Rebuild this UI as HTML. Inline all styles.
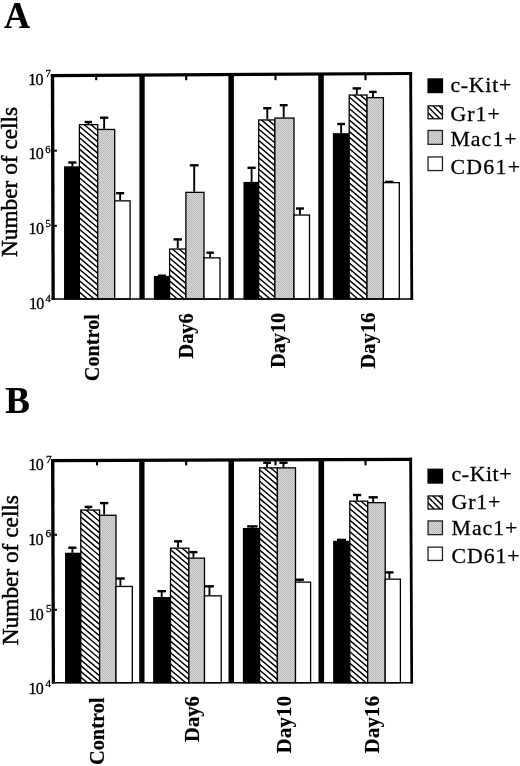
<!DOCTYPE html>
<html><head><meta charset="utf-8"><title>Figure</title>
<style>
html,body{margin:0;padding:0;background:#fff;}
body{width:520px;height:766px;overflow:hidden;font-family:"Liberation Serif",serif;}
svg{display:block;will-change:transform;}
text{font-family:"Liberation Serif",serif;fill:#000;}
.b{font-weight:bold;}
.s{font-weight:normal;stroke:#000;stroke-width:0.3px;}
.s2{font-weight:normal;stroke:#000;stroke-width:0.5px;}
.b{stroke:#000;stroke-width:0.2px;}
</style></head><body>
<svg width="520" height="766" viewBox="0 0 520 766">
<defs>
<pattern id="hatch" width="3.9" height="3.9" patternUnits="userSpaceOnUse" patternTransform="rotate(45)">
<rect width="3.9" height="3.9" fill="#fff"/><rect x="0" y="0" width="3.9" height="1.35" fill="#000"/></pattern>
<pattern id="hatchL" width="3.9" height="3.9" patternUnits="userSpaceOnUse" patternTransform="rotate(45)">
<rect width="3.9" height="3.9" fill="#fff"/><rect x="0" y="0" width="3.9" height="1.5" fill="#000"/></pattern>
<pattern id="dots" width="2" height="2" patternUnits="userSpaceOnUse">
<rect width="2" height="2" fill="#d4d4d4"/><rect width="1" height="1" fill="#bdbdbd"/><rect x="1" y="1" width="1" height="1" fill="#bdbdbd"/></pattern>
</defs>
<rect width="520" height="766" fill="#fff"/>

<g id="A">
<line x1="68.30" y1="162.50" x2="76.50" y2="162.50" stroke="#000" stroke-width="2.4"/><line x1="72.40" y1="162.50" x2="72.40" y2="166.30" stroke="#000" stroke-width="1.9"/>
<line x1="84.60" y1="122.00" x2="92.00" y2="122.00" stroke="#000" stroke-width="2.4"/><line x1="88.30" y1="122.00" x2="88.30" y2="124.00" stroke="#000" stroke-width="1.9"/>
<line x1="100.00" y1="117.70" x2="108.30" y2="117.70" stroke="#000" stroke-width="2.4"/><line x1="104.15" y1="117.70" x2="104.15" y2="128.80" stroke="#000" stroke-width="1.9"/>
<line x1="116.10" y1="193.20" x2="124.20" y2="193.20" stroke="#000" stroke-width="2.4"/><line x1="120.15" y1="193.20" x2="120.15" y2="200.20" stroke="#000" stroke-width="1.9"/>
<line x1="158.00" y1="275.70" x2="166.00" y2="275.70" stroke="#000" stroke-width="2.4"/>
<line x1="173.50" y1="239.40" x2="182.00" y2="239.40" stroke="#000" stroke-width="2.4"/><line x1="177.75" y1="239.40" x2="177.75" y2="248.40" stroke="#000" stroke-width="1.9"/>
<line x1="189.80" y1="165.30" x2="198.60" y2="165.30" stroke="#000" stroke-width="2.4"/><line x1="194.20" y1="165.30" x2="194.20" y2="191.70" stroke="#000" stroke-width="1.9"/>
<line x1="206.40" y1="252.70" x2="213.90" y2="252.70" stroke="#000" stroke-width="2.4"/><line x1="210.15" y1="252.70" x2="210.15" y2="257.20" stroke="#000" stroke-width="1.9"/>
<line x1="247.50" y1="167.80" x2="255.70" y2="167.80" stroke="#000" stroke-width="2.4"/><line x1="251.60" y1="167.80" x2="251.60" y2="181.90" stroke="#000" stroke-width="1.9"/>
<line x1="263.20" y1="108.20" x2="271.40" y2="108.20" stroke="#000" stroke-width="2.4"/><line x1="267.30" y1="108.20" x2="267.30" y2="119.30" stroke="#000" stroke-width="1.9"/>
<line x1="279.80" y1="105.20" x2="287.60" y2="105.20" stroke="#000" stroke-width="2.4"/><line x1="283.70" y1="105.20" x2="283.70" y2="117.40" stroke="#000" stroke-width="1.9"/>
<line x1="296.00" y1="208.50" x2="303.90" y2="208.50" stroke="#000" stroke-width="2.4"/><line x1="299.95" y1="208.50" x2="299.95" y2="214.40" stroke="#000" stroke-width="1.9"/>
<line x1="337.30" y1="124.00" x2="345.00" y2="124.00" stroke="#000" stroke-width="2.4"/><line x1="341.15" y1="124.00" x2="341.15" y2="133.20" stroke="#000" stroke-width="1.9"/>
<line x1="352.60" y1="88.40" x2="361.00" y2="88.40" stroke="#000" stroke-width="2.4"/><line x1="356.80" y1="88.40" x2="356.80" y2="94.40" stroke="#000" stroke-width="1.9"/>
<line x1="369.20" y1="91.90" x2="376.70" y2="91.90" stroke="#000" stroke-width="2.4"/><line x1="372.95" y1="91.90" x2="372.95" y2="97.00" stroke="#000" stroke-width="1.9"/>
<line x1="385.00" y1="181.90" x2="393.50" y2="181.90" stroke="#000" stroke-width="2.4"/>
<rect x="64.70" y="166.95" width="14.70" height="132.05" fill="#000" stroke="#000" stroke-width="1.3"/>
<clipPath id="c1"><rect x="79.40" y="124.65" width="18.30" height="174.35"/></clipPath><rect x="79.40" y="124.65" width="18.30" height="174.35" fill="#fff"/><g clip-path="url(#c1)" stroke="#000" stroke-width="1.45"><path d="M78.40 102.53L98.70 119.78M78.40 108.25L98.70 125.50M78.40 113.97L98.70 131.22M78.40 119.69L98.70 136.94M78.40 125.41L98.70 142.66M78.40 131.13L98.70 148.38M78.40 136.85L98.70 154.10M78.40 142.57L98.70 159.82M78.40 148.29L98.70 165.54M78.40 154.01L98.70 171.26M78.40 159.73L98.70 176.98M78.40 165.45L98.70 182.70M78.40 171.17L98.70 188.42M78.40 176.89L98.70 194.14M78.40 182.61L98.70 199.86M78.40 188.33L98.70 205.58M78.40 194.05L98.70 211.30M78.40 199.77L98.70 217.02M78.40 205.49L98.70 222.74M78.40 211.21L98.70 228.46M78.40 216.93L98.70 234.18M78.40 222.65L98.70 239.90M78.40 228.37L98.70 245.62M78.40 234.09L98.70 251.34M78.40 239.81L98.70 257.06M78.40 245.53L98.70 262.78M78.40 251.25L98.70 268.50M78.40 256.96L98.70 274.22M78.40 262.69L98.70 279.94M78.40 268.41L98.70 285.66M78.40 274.13L98.70 291.38M78.40 279.85L98.70 297.10M78.40 285.57L98.70 302.82M78.40 291.29L98.70 308.54M78.40 297.01L98.70 314.26M78.40 302.73L98.70 319.98" fill="none"/></g><rect x="79.40" y="124.65" width="18.30" height="174.35" fill="none" stroke="#000" stroke-width="1.3"/>
<rect x="97.70" y="129.45" width="17.00" height="169.55" fill="url(#dots)" stroke="#000" stroke-width="1.3"/>
<rect x="114.70" y="200.85" width="15.40" height="98.15" fill="#fff" stroke="#000" stroke-width="1.3"/>
<rect x="154.50" y="276.55" width="15.10" height="22.45" fill="#000" stroke="#000" stroke-width="1.3"/>
<clipPath id="c2"><rect x="169.60" y="249.05" width="16.30" height="49.95"/></clipPath><rect x="169.60" y="249.05" width="16.30" height="49.95" fill="#fff"/><g clip-path="url(#c2)" stroke="#000" stroke-width="1.45"><path d="M168.60 228.62L186.90 244.18M168.60 234.34L186.90 249.90M168.60 240.06L186.90 255.62M168.60 245.78L186.90 261.34M168.60 251.50L186.90 267.06M168.60 257.22L186.90 272.78M168.60 262.94L186.90 278.50M168.60 268.67L186.90 284.22M168.60 274.39L186.90 289.94M168.60 280.11L186.90 295.66M168.60 285.83L186.90 301.38M168.60 291.55L186.90 307.10M168.60 297.27L186.90 312.82M168.60 302.99L186.90 318.54" fill="none"/></g><rect x="169.60" y="249.05" width="16.30" height="49.95" fill="none" stroke="#000" stroke-width="1.3"/>
<rect x="185.90" y="192.35" width="18.10" height="106.65" fill="url(#dots)" stroke="#000" stroke-width="1.3"/>
<rect x="204.00" y="257.85" width="16.00" height="41.15" fill="#fff" stroke="#000" stroke-width="1.3"/>
<rect x="244.10" y="182.55" width="14.60" height="116.45" fill="#000" stroke="#000" stroke-width="1.3"/>
<clipPath id="c3"><rect x="258.70" y="119.95" width="16.20" height="179.05"/></clipPath><rect x="258.70" y="119.95" width="16.20" height="179.05" fill="#fff"/><g clip-path="url(#c3)" stroke="#000" stroke-width="1.45"><path d="M257.70 99.61L275.90 115.08M257.70 105.33L275.90 120.80M257.70 111.05L275.90 126.52M257.70 116.77L275.90 132.24M257.70 122.49L275.90 137.96M257.70 128.21L275.90 143.68M257.70 133.93L275.90 149.40M257.70 139.65L275.90 155.12M257.70 145.37L275.90 160.84M257.70 151.09L275.90 166.56M257.70 156.81L275.90 172.28M257.70 162.53L275.90 178.00M257.70 168.25L275.90 183.72M257.70 173.97L275.90 189.44M257.70 179.69L275.90 195.16M257.70 185.41L275.90 200.88M257.70 191.13L275.90 206.60M257.70 196.85L275.90 212.32M257.70 202.57L275.90 218.04M257.70 208.29L275.90 223.76M257.70 214.01L275.90 229.48M257.70 219.73L275.90 235.20M257.70 225.45L275.90 240.92M257.70 231.17L275.90 246.64M257.70 236.89L275.90 252.36M257.70 242.61L275.90 258.08M257.70 248.33L275.90 263.80M257.70 254.05L275.90 269.52M257.70 259.77L275.90 275.24M257.70 265.49L275.90 280.96M257.70 271.21L275.90 286.68M257.70 276.93L275.90 292.40M257.70 282.65L275.90 298.12M257.70 288.37L275.90 303.84M257.70 294.09L275.90 309.56M257.70 299.81L275.90 315.28" fill="none"/></g><rect x="258.70" y="119.95" width="16.20" height="179.05" fill="none" stroke="#000" stroke-width="1.3"/>
<rect x="274.90" y="118.05" width="19.10" height="180.95" fill="url(#dots)" stroke="#000" stroke-width="1.3"/>
<rect x="294.00" y="215.05" width="15.50" height="83.95" fill="#fff" stroke="#000" stroke-width="1.3"/>
<rect x="333.50" y="133.85" width="15.70" height="165.15" fill="#000" stroke="#000" stroke-width="1.3"/>
<clipPath id="c4"><rect x="349.20" y="95.05" width="17.80" height="203.95"/></clipPath><rect x="349.20" y="95.05" width="17.80" height="203.95" fill="#fff"/><g clip-path="url(#c4)" stroke="#000" stroke-width="1.45"><path d="M348.20 73.35L368.00 90.18M348.20 79.07L368.00 95.90M348.20 84.79L368.00 101.62M348.20 90.51L368.00 107.34M348.20 96.23L368.00 113.06M348.20 101.95L368.00 118.78M348.20 107.67L368.00 124.50M348.20 113.39L368.00 130.22M348.20 119.11L368.00 135.94M348.20 124.83L368.00 141.66M348.20 130.55L368.00 147.38M348.20 136.27L368.00 153.10M348.20 141.99L368.00 158.82M348.20 147.71L368.00 164.54M348.20 153.43L368.00 170.26M348.20 159.15L368.00 175.98M348.20 164.87L368.00 181.70M348.20 170.59L368.00 187.42M348.20 176.31L368.00 193.14M348.20 182.03L368.00 198.86M348.20 187.75L368.00 204.58M348.20 193.47L368.00 210.30M348.20 199.19L368.00 216.02M348.20 204.91L368.00 221.74M348.20 210.63L368.00 227.46M348.20 216.35L368.00 233.18M348.20 222.07L368.00 238.90M348.20 227.79L368.00 244.62M348.20 233.51L368.00 250.34M348.20 239.23L368.00 256.06M348.20 244.95L368.00 261.78M348.20 250.67L368.00 267.50M348.20 256.39L368.00 273.22M348.20 262.11L368.00 278.94M348.20 267.83L368.00 284.66M348.20 273.55L368.00 290.38M348.20 279.27L368.00 296.10M348.20 284.99L368.00 301.82M348.20 290.71L368.00 307.54M348.20 296.43L368.00 313.26M348.20 302.15L368.00 318.98" fill="none"/></g><rect x="349.20" y="95.05" width="17.80" height="203.95" fill="none" stroke="#000" stroke-width="1.3"/>
<rect x="367.00" y="97.65" width="16.40" height="201.35" fill="url(#dots)" stroke="#000" stroke-width="1.3"/>
<rect x="383.40" y="182.65" width="15.90" height="116.35" fill="#fff" stroke="#000" stroke-width="1.3"/>
<rect x="139.40" y="75.17" width="5.30" height="223.83" fill="#000"/><rect x="228.40" y="74.62" width="5.50" height="224.38" fill="#000"/><rect x="318.30" y="74.07" width="5.50" height="224.93" fill="#000"/>
<polygon points="50.80,74.10 412.10,71.90 412.10,75.00 50.80,77.30" fill="#000"/><polygon points="50.80,74.10 54.20,74.10 54.80,299.80 51.50,299.80" fill="#000"/><polygon points="409.20,71.90 412.10,71.90 413.20,299.80 410.40,299.80" fill="#000"/><line x1="51.50" y1="299.00" x2="413.20" y2="299.00" stroke="#000" stroke-width="1.6"/>
<line x1="54.2" y1="150.70" x2="56.9" y2="150.70" stroke="#000" stroke-width="2"/><line x1="54.2" y1="225.80" x2="56.9" y2="225.80" stroke="#000" stroke-width="2"/>
<line x1="96.20" y1="74.00" x2="96.20" y2="80.20" stroke="#000" stroke-width="2.1"/><line x1="186.20" y1="74.00" x2="186.20" y2="80.20" stroke="#000" stroke-width="2.1"/><line x1="275.50" y1="74.00" x2="275.50" y2="80.20" stroke="#000" stroke-width="2.1"/><line x1="365.50" y1="74.00" x2="365.50" y2="80.20" stroke="#000" stroke-width="2.1"/>
<text x="28.3" y="84.85" font-size="16" letter-spacing="-0.7" class="s">10</text><text x="45.4" y="77.10" font-size="10.6" class="s">7</text><text x="28.5" y="158.90" font-size="16" letter-spacing="-0.7" class="s">10</text><text x="45.2" y="152.80" font-size="10.6" class="s">6</text><text x="28.6" y="233.90" font-size="16" letter-spacing="-0.7" class="s">10</text><text x="45.4" y="226.80" font-size="10.6" class="s">5</text><text x="28.9" y="309.10" font-size="16" letter-spacing="-0.7" class="s">10</text><text x="45.4" y="301.60" font-size="10.6" class="s">4</text>
<text transform="translate(17.10,257.00) rotate(-90)" font-size="23.3" text-anchor="start" letter-spacing="0" class="s2">Number of cells</text>
<text transform="translate(98.90,314.00) rotate(-90)" font-size="20.3" text-anchor="end" letter-spacing="0" class="b">Control</text>
<text transform="translate(192.50,313.40) rotate(-90)" font-size="20.3" text-anchor="end" letter-spacing="0" class="b">Day6</text>
<text transform="translate(284.80,312.80) rotate(-90)" font-size="20.3" text-anchor="end" letter-spacing="0" class="b">Day10</text>
<text transform="translate(374.80,312.30) rotate(-90)" font-size="20.3" text-anchor="end" letter-spacing="0.2" class="b">Day16</text>
<rect x="427.4" y="78.30" width="15.70" height="14.90" fill="#000"/><text x="450.4" y="92.20" font-size="21.8" letter-spacing="0.77" class="s">c-Kit+</text><clipPath id="c5"><rect x="428.04999999999995" y="105.85" width="14.40" height="12.90"/></clipPath><path clip-path="url(#c5)" d="M426.40 81.20L444.10 98.90M426.40 87.20L444.10 104.90M426.40 93.20L444.10 110.90M426.40 99.20L444.10 116.90M426.40 105.20L444.10 122.90M426.40 111.20L444.10 128.90M426.40 117.20L444.10 134.90M426.40 123.20L444.10 140.90M426.40 129.20L444.10 146.90" stroke="#000" stroke-width="1.5" fill="none"/><rect x="428.04999999999995" y="105.85" width="14.40" height="12.90" fill="none" stroke="#111" stroke-width="1.3"/><text x="450.4" y="120.60" font-size="21.8" letter-spacing="1.03" class="s">Gr1+</text><rect x="428.04999999999995" y="130.45" width="14.40" height="13.90" fill="url(#dots)" stroke="#222" stroke-width="1.3"/><text x="450.4" y="146.30" font-size="21.8" letter-spacing="1.05" class="s">Mac1+</text><rect x="428.04999999999995" y="156.95" width="14.40" height="13.60" fill="#fff" stroke="#222" stroke-width="1.3"/><text x="450.4" y="173.50" font-size="21.8" letter-spacing="1.35" class="s">CD61+</text>
<text transform="translate(17.0,27.7) scale(0.94,1)" text-anchor="middle" font-size="38.5" class="b">A</text>
</g>
<g id="B">
<line x1="68.30" y1="547.70" x2="76.50" y2="547.70" stroke="#000" stroke-width="2.4"/><line x1="72.40" y1="547.70" x2="72.40" y2="552.70" stroke="#000" stroke-width="1.9"/>
<line x1="84.60" y1="506.90" x2="92.30" y2="506.90" stroke="#000" stroke-width="2.4"/><line x1="88.45" y1="506.90" x2="88.45" y2="509.40" stroke="#000" stroke-width="1.9"/>
<line x1="100.00" y1="503.10" x2="108.30" y2="503.10" stroke="#000" stroke-width="2.4"/><line x1="104.15" y1="503.10" x2="104.15" y2="514.60" stroke="#000" stroke-width="1.9"/>
<line x1="116.00" y1="578.50" x2="124.80" y2="578.50" stroke="#000" stroke-width="2.4"/><line x1="120.40" y1="578.50" x2="120.40" y2="585.80" stroke="#000" stroke-width="1.9"/>
<line x1="157.40" y1="591.20" x2="166.00" y2="591.20" stroke="#000" stroke-width="2.4"/><line x1="161.70" y1="591.20" x2="161.70" y2="597.00" stroke="#000" stroke-width="1.9"/>
<line x1="174.00" y1="541.30" x2="182.10" y2="541.30" stroke="#000" stroke-width="2.4"/><line x1="178.05" y1="541.30" x2="178.05" y2="547.50" stroke="#000" stroke-width="1.9"/>
<line x1="189.40" y1="552.10" x2="197.50" y2="552.10" stroke="#000" stroke-width="2.4"/><line x1="193.45" y1="552.10" x2="193.45" y2="557.50" stroke="#000" stroke-width="1.9"/>
<line x1="205.00" y1="586.30" x2="213.90" y2="586.30" stroke="#000" stroke-width="2.4"/><line x1="209.45" y1="586.30" x2="209.45" y2="595.20" stroke="#000" stroke-width="1.9"/>
<line x1="247.20" y1="526.40" x2="257.60" y2="526.40" stroke="#000" stroke-width="2.4"/><line x1="252.40" y1="526.40" x2="252.40" y2="528.00" stroke="#000" stroke-width="1.9"/>
<line x1="263.20" y1="462.70" x2="271.00" y2="462.70" stroke="#000" stroke-width="2.4"/><line x1="267.10" y1="462.70" x2="267.10" y2="467.20" stroke="#000" stroke-width="1.9"/>
<line x1="279.40" y1="462.70" x2="287.60" y2="462.70" stroke="#000" stroke-width="2.4"/><line x1="283.50" y1="462.70" x2="283.50" y2="467.20" stroke="#000" stroke-width="1.9"/>
<line x1="295.50" y1="579.70" x2="303.90" y2="579.70" stroke="#000" stroke-width="2.4"/><line x1="299.70" y1="579.70" x2="299.70" y2="581.50" stroke="#000" stroke-width="1.9"/>
<line x1="337.00" y1="539.90" x2="346.00" y2="539.90" stroke="#000" stroke-width="2.4"/>
<line x1="353.00" y1="495.00" x2="361.20" y2="495.00" stroke="#000" stroke-width="2.4"/><line x1="357.10" y1="495.00" x2="357.10" y2="500.50" stroke="#000" stroke-width="1.9"/>
<line x1="368.60" y1="497.30" x2="377.80" y2="497.30" stroke="#000" stroke-width="2.4"/><line x1="373.20" y1="497.30" x2="373.20" y2="502.00" stroke="#000" stroke-width="1.9"/>
<line x1="385.30" y1="572.40" x2="393.50" y2="572.40" stroke="#000" stroke-width="2.4"/><line x1="389.40" y1="572.40" x2="389.40" y2="578.50" stroke="#000" stroke-width="1.9"/>
<rect x="65.70" y="553.35" width="15.10" height="129.35" fill="#000" stroke="#000" stroke-width="1.3"/>
<clipPath id="c6"><rect x="80.80" y="510.05" width="18.80" height="172.65"/></clipPath><rect x="80.80" y="510.05" width="18.80" height="172.65" fill="#fff"/><g clip-path="url(#c6)" stroke="#000" stroke-width="1.45"><path d="M79.80 487.50L100.60 505.18M79.80 493.22L100.60 510.90M79.80 498.94L100.60 516.62M79.80 504.66L100.60 522.34M79.80 510.38L100.60 528.06M79.80 516.10L100.60 533.78M79.80 521.82L100.60 539.50M79.80 527.54L100.60 545.22M79.80 533.26L100.60 550.94M79.80 538.98L100.60 556.66M79.80 544.70L100.60 562.38M79.80 550.42L100.60 568.10M79.80 556.14L100.60 573.82M79.80 561.86L100.60 579.54M79.80 567.58L100.60 585.26M79.80 573.30L100.60 590.98M79.80 579.02L100.60 596.70M79.80 584.74L100.60 602.42M79.80 590.46L100.60 608.14M79.80 596.18L100.60 613.86M79.80 601.90L100.60 619.58M79.80 607.62L100.60 625.30M79.80 613.34L100.60 631.02M79.80 619.06L100.60 636.74M79.80 624.78L100.60 642.46M79.80 630.50L100.60 648.18M79.80 636.22L100.60 653.90M79.80 641.94L100.60 659.62M79.80 647.66L100.60 665.34M79.80 653.38L100.60 671.06M79.80 659.10L100.60 676.78M79.80 664.82L100.60 682.50M79.80 670.54L100.60 688.22M79.80 676.26L100.60 693.94M79.80 681.98L100.60 699.66" fill="none"/></g><rect x="80.80" y="510.05" width="18.80" height="172.65" fill="none" stroke="#000" stroke-width="1.3"/>
<rect x="99.60" y="515.25" width="16.40" height="167.45" fill="url(#dots)" stroke="#000" stroke-width="1.3"/>
<rect x="116.00" y="586.45" width="16.30" height="96.25" fill="#fff" stroke="#000" stroke-width="1.3"/>
<rect x="153.80" y="597.65" width="16.70" height="85.05" fill="#000" stroke="#000" stroke-width="1.3"/>
<clipPath id="c7"><rect x="170.50" y="548.15" width="18.40" height="134.55"/></clipPath><rect x="170.50" y="548.15" width="18.40" height="134.55" fill="#fff"/><g clip-path="url(#c7)" stroke="#000" stroke-width="1.45"><path d="M169.50 525.94L189.90 543.28M169.50 531.66L189.90 549.00M169.50 537.38L189.90 554.72M169.50 543.10L189.90 560.44M169.50 548.82L189.90 566.16M169.50 554.54L189.90 571.88M169.50 560.26L189.90 577.60M169.50 565.98L189.90 583.32M169.50 571.70L189.90 589.04M169.50 577.42L189.90 594.76M169.50 583.14L189.90 600.48M169.50 588.86L189.90 606.20M169.50 594.58L189.90 611.92M169.50 600.30L189.90 617.64M169.50 606.02L189.90 623.36M169.50 611.74L189.90 629.08M169.50 617.46L189.90 634.80M169.50 623.18L189.90 640.52M169.50 628.90L189.90 646.24M169.50 634.62L189.90 651.96M169.50 640.34L189.90 657.68M169.50 646.06L189.90 663.40M169.50 651.78L189.90 669.12M169.50 657.50L189.90 674.84M169.50 663.22L189.90 680.56M169.50 668.94L189.90 686.28M169.50 674.66L189.90 692.00M169.50 680.38L189.90 697.72M169.50 686.10L189.90 703.44" fill="none"/></g><rect x="170.50" y="548.15" width="18.40" height="134.55" fill="none" stroke="#000" stroke-width="1.3"/>
<rect x="188.90" y="558.15" width="15.60" height="124.55" fill="url(#dots)" stroke="#000" stroke-width="1.3"/>
<rect x="204.50" y="595.85" width="16.70" height="86.85" fill="#fff" stroke="#000" stroke-width="1.3"/>
<rect x="243.50" y="528.65" width="16.10" height="154.05" fill="#000" stroke="#000" stroke-width="1.3"/>
<clipPath id="c8"><rect x="259.60" y="467.85" width="17.80" height="214.85"/></clipPath><rect x="259.60" y="467.85" width="17.80" height="214.85" fill="#fff"/><g clip-path="url(#c8)" stroke="#000" stroke-width="1.45"><path d="M258.60 446.15L278.40 462.98M258.60 451.87L278.40 468.70M258.60 457.59L278.40 474.42M258.60 463.31L278.40 480.14M258.60 469.03L278.40 485.86M258.60 474.75L278.40 491.58M258.60 480.47L278.40 497.30M258.60 486.19L278.40 503.02M258.60 491.91L278.40 508.74M258.60 497.63L278.40 514.46M258.60 503.35L278.40 520.18M258.60 509.07L278.40 525.90M258.60 514.79L278.40 531.62M258.60 520.51L278.40 537.34M258.60 526.23L278.40 543.06M258.60 531.95L278.40 548.78M258.60 537.67L278.40 554.50M258.60 543.39L278.40 560.22M258.60 549.11L278.40 565.94M258.60 554.83L278.40 571.66M258.60 560.55L278.40 577.38M258.60 566.27L278.40 583.10M258.60 571.99L278.40 588.82M258.60 577.71L278.40 594.54M258.60 583.43L278.40 600.26M258.60 589.15L278.40 605.98M258.60 594.87L278.40 611.70M258.60 600.59L278.40 617.42M258.60 606.31L278.40 623.14M258.60 612.03L278.40 628.86M258.60 617.75L278.40 634.58M258.60 623.47L278.40 640.30M258.60 629.19L278.40 646.02M258.60 634.91L278.40 651.74M258.60 640.63L278.40 657.46M258.60 646.35L278.40 663.18M258.60 652.07L278.40 668.90M258.60 657.79L278.40 674.62M258.60 663.51L278.40 680.34M258.60 669.23L278.40 686.06M258.60 674.95L278.40 691.78M258.60 680.67L278.40 697.50M258.60 686.39L278.40 703.22" fill="none"/></g><rect x="259.60" y="467.85" width="17.80" height="214.85" fill="none" stroke="#000" stroke-width="1.3"/>
<rect x="277.40" y="467.85" width="18.10" height="214.85" fill="url(#dots)" stroke="#000" stroke-width="1.3"/>
<rect x="295.50" y="582.15" width="15.10" height="100.55" fill="#fff" stroke="#000" stroke-width="1.3"/>
<rect x="333.80" y="541.45" width="16.00" height="141.25" fill="#000" stroke="#000" stroke-width="1.3"/>
<clipPath id="c9"><rect x="349.80" y="501.15" width="17.90" height="181.55"/></clipPath><rect x="349.80" y="501.15" width="17.90" height="181.55" fill="#fff"/><g clip-path="url(#c9)" stroke="#000" stroke-width="1.45"><path d="M348.80 479.36L368.70 496.28M348.80 485.08L368.70 502.00M348.80 490.81L368.70 507.72M348.80 496.53L368.70 513.44M348.80 502.25L368.70 519.16M348.80 507.97L368.70 524.88M348.80 513.69L368.70 530.60M348.80 519.41L368.70 536.32M348.80 525.13L368.70 542.04M348.80 530.85L368.70 547.76M348.80 536.57L368.70 553.48M348.80 542.29L368.70 559.20M348.80 548.01L368.70 564.92M348.80 553.73L368.70 570.64M348.80 559.45L368.70 576.36M348.80 565.17L368.70 582.08M348.80 570.89L368.70 587.80M348.80 576.61L368.70 593.52M348.80 582.33L368.70 599.24M348.80 588.05L368.70 604.96M348.80 593.77L368.70 610.68M348.80 599.49L368.70 616.40M348.80 605.21L368.70 622.12M348.80 610.93L368.70 627.84M348.80 616.65L368.70 633.56M348.80 622.37L368.70 639.28M348.80 628.09L368.70 645.00M348.80 633.81L368.70 650.72M348.80 639.53L368.70 656.44M348.80 645.25L368.70 662.16M348.80 650.97L368.70 667.88M348.80 656.69L368.70 673.60M348.80 662.41L368.70 679.32M348.80 668.13L368.70 685.04M348.80 673.85L368.70 690.76M348.80 679.57L368.70 696.48M348.80 685.29L368.70 702.20" fill="none"/></g><rect x="349.80" y="501.15" width="17.90" height="181.55" fill="none" stroke="#000" stroke-width="1.3"/>
<rect x="367.70" y="502.65" width="17.50" height="180.05" fill="url(#dots)" stroke="#000" stroke-width="1.3"/>
<rect x="385.20" y="579.15" width="15.20" height="103.55" fill="#fff" stroke="#000" stroke-width="1.3"/>
<rect x="139.20" y="460.36" width="5.30" height="222.34" fill="#000"/><rect x="228.50" y="460.01" width="5.50" height="222.69" fill="#000"/><rect x="318.50" y="459.66" width="5.60" height="223.04" fill="#000"/>
<polygon points="51.00,459.10 412.10,457.70 412.10,460.90 51.00,462.30" fill="#000"/><polygon points="51.00,459.10 54.40,459.10 55.00,683.50 51.80,683.50" fill="#000"/><polygon points="409.20,457.70 412.10,457.70 413.10,683.50 410.40,683.50" fill="#000"/><line x1="51.80" y1="682.70" x2="413.10" y2="682.70" stroke="#000" stroke-width="1.6"/>
<line x1="54.4" y1="534.80" x2="57.0" y2="534.80" stroke="#000" stroke-width="2"/><line x1="54.4" y1="609.80" x2="57.0" y2="609.80" stroke="#000" stroke-width="2"/>
<line x1="97.00" y1="459.00" x2="97.00" y2="465.40" stroke="#000" stroke-width="2.1"/><line x1="186.20" y1="459.00" x2="186.20" y2="465.40" stroke="#000" stroke-width="2.1"/><line x1="275.50" y1="459.00" x2="275.50" y2="465.40" stroke="#000" stroke-width="2.1"/><line x1="365.50" y1="459.00" x2="365.50" y2="465.40" stroke="#000" stroke-width="2.1"/>
<text x="28.5" y="469.60" font-size="16" letter-spacing="-0.7" class="s">10</text><text x="45.9" y="462.50" font-size="11.2" class="s">7</text><text x="28.3" y="544.90" font-size="16" letter-spacing="-0.7" class="s">10</text><text x="45.5" y="536.90" font-size="11.2" class="s">6</text><text x="28.5" y="619.50" font-size="16" letter-spacing="-0.7" class="s">10</text><text x="45.9" y="612.40" font-size="11.2" class="s">5</text><text x="28.5" y="693.80" font-size="16" letter-spacing="-0.7" class="s">10</text><text x="45.6" y="686.70" font-size="11.2" class="s">4</text>
<text transform="translate(18.20,645.20) rotate(-90)" font-size="23.3" text-anchor="start" letter-spacing="0" class="s2">Number of cells</text>
<text transform="translate(104.00,697.50) rotate(-90)" font-size="20.4" text-anchor="end" letter-spacing="0" class="b">Control</text>
<text transform="translate(198.60,696.20) rotate(-90)" font-size="20.6" text-anchor="end" letter-spacing="0" class="b">Day6</text>
<text transform="translate(291.00,695.70) rotate(-90)" font-size="20.6" text-anchor="end" letter-spacing="0.3" class="b">Day10</text>
<text transform="translate(379.40,695.70) rotate(-90)" font-size="20.6" text-anchor="end" letter-spacing="0.3" class="b">Day16</text>
<rect x="427.4" y="468.60" width="15.70" height="15.10" fill="#000"/><text x="451.6" y="481.10" font-size="21.8" letter-spacing="0.57" class="s">c-Kit+</text><clipPath id="c10"><rect x="428.04999999999995" y="495.95" width="14.40" height="13.10"/></clipPath><path clip-path="url(#c10)" d="M426.40 471.30L444.10 489.00M426.40 477.30L444.10 495.00M426.40 483.30L444.10 501.00M426.40 489.30L444.10 507.00M426.40 495.30L444.10 513.00M426.40 501.30L444.10 519.00M426.40 507.30L444.10 525.00M426.40 513.30L444.10 531.00M426.40 519.30L444.10 537.00" stroke="#000" stroke-width="1.5" fill="none"/><rect x="428.04999999999995" y="495.95" width="14.40" height="13.10" fill="none" stroke="#111" stroke-width="1.3"/><text x="451.6" y="508.60" font-size="21.8" letter-spacing="0.8" class="s">Gr1+</text><rect x="428.04999999999995" y="520.95" width="14.40" height="13.70" fill="url(#dots)" stroke="#222" stroke-width="1.3"/><text x="451.6" y="534.80" font-size="21.8" letter-spacing="0.95" class="s">Mac1+</text><rect x="428.04999999999995" y="547.15" width="14.40" height="13.30" fill="#fff" stroke="#222" stroke-width="1.3"/><text x="451.6" y="562.80" font-size="21.8" letter-spacing="0.9" class="s">CD61+</text>
<text x="5.2" y="413" font-size="37" class="b">B</text>
</g>
</svg>
</body></html>
